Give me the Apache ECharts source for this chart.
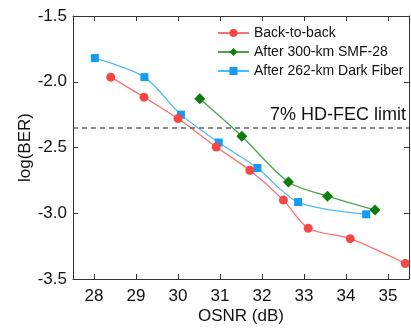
<!DOCTYPE html>
<html>
<head>
<meta charset="utf-8">
<script src="https://cdn.jsdelivr.net/npm/echarts@6/dist/echarts.min.js"></script>
<style>
  html, body { margin: 0; padding: 0; background: #fff; }
  #main { width: 411px; height: 330px; }
</style>
</head>
<body>
<div id="main"></div>
<script>
// 数据
var b2bX = [28.40, 29.19, 30.00, 30.91, 31.71, 32.51, 33.10, 34.10, 35.41];
var b2bY = [-1.965, -2.117, -2.28, -2.496, -2.673, -2.90, -3.114, -3.193, -3.382];
var smfX = [30.52, 31.52, 32.63, 33.56, 34.69];
var smfY = [-2.13, -2.415, -2.762, -2.870, -2.976];
var darkX = [28.02, 29.20, 30.07, 30.97, 31.89, 32.86, 34.48];
var darkY = [-1.82, -1.965, -2.25, -2.462, -2.656, -2.915, -3.008];
var xTicks = [28, 29, 30, 31, 32, 33, 34, 35];
var fecLimit = -2.35;

function pairs(xs, ys) {
    return xs.map(function (x, i) { return [x, ys[i]]; });
}

var myChart = echarts.init(document.getElementById('main'));
var font = 'Liberation Sans, Arial, sans-serif';

myChart.setOption({
    animation: false,
    textStyle: { fontFamily: font },
    grid: { left: 73, right: 2, top: 16, bottom: 43 },
    legend: { //图例
        left: 217,
        top: 26,
        padding: 0,
        orient: 'vertical',
        itemWidth: 31,
        itemHeight: 10,
        itemGap: 5,
        textStyle: { fontSize: 14, color: '#111', fontFamily: font, lineHeight: 12 },
        data: ['Back-to-back', 'After 300-km SMF-28', 'After 262-km Dark Fiber']
    },
    xAxis: [
        {
            type: 'value',
            min: 27.5,
            max: 35.5,
            name: 'OSNR (dB)',
            nameLocation: 'middle',
            nameGap: 29,
            nameMoveOverlap: false,
            nameTextStyle: { fontSize: 17, color: '#111' },
            axisLine: { lineStyle: { color: '#333', width: 1 } },
            axisTick: { inside: true, length: 5, customValues: xTicks, lineStyle: { color: '#333' } },
            axisLabel: { customValues: xTicks, fontSize: 17, color: '#111', margin: 9 },
            splitLine: { show: false }
        },
        {
            type: 'value',
            position: 'top',
            min: 27.5,
            max: 35.5,
            axisLine: { show: true, lineStyle: { color: '#333', width: 1 } },
            axisTick: { inside: true, length: 5, customValues: xTicks, lineStyle: { color: '#333' } },
            axisLabel: { show: false },
            splitLine: { show: false }
        }
    ],
    yAxis: [
        {
            type: 'value',
            min: -3.5,
            max: -1.5,
            interval: 0.5,
            name: 'log(BER)',
            nameLocation: 'middle',
            nameGap: 39,
            nameMoveOverlap: false,
            nameTextStyle: { fontSize: 17, color: '#111' },
            axisLine: { show: true, lineStyle: { color: '#333', width: 1 } },
            axisTick: { show: true, inside: true, length: 5, lineStyle: { color: '#333' } },
            axisLabel: {
                fontSize: 17, color: '#111', margin: 6,
                formatter: function (v) { return v.toFixed(1); }
            },
            splitLine: { show: false }
        },
        {
            type: 'value',
            position: 'right',
            min: -3.5,
            max: -1.5,
            interval: 0.5,
            axisLine: { show: true, lineStyle: { color: '#333', width: 1 } },
            axisTick: { show: true, inside: true, length: 5, lineStyle: { color: '#333' } },
            axisLabel: { show: false },
            splitLine: { show: false }
        }
    ],
    series: [
        {
            name: 'Back-to-back',
            type: 'line',
            smooth: 0.3,
            symbol: 'circle',
            symbolSize: 9,
            data: pairs(b2bX, b2bY),
            itemStyle: { color: '#f64646' },
            lineStyle: { color: '#ff7070', width: 1.3 },
            markLine: { //HD-FEC 限
                silent: true,
                symbol: 'none',
                data: [{ yAxis: fecLimit }],
                lineStyle: { color: '#666', type: [5, 4], width: 1.5 },
                label: {
                    position: 'insideEndTop',
                    formatter: '7% HD-FEC limit',
                    fontSize: 18,
                    color: '#111',
                    distance: [3, 4]
                }
            },
            z: 3
        },
        {
            name: 'After 300-km SMF-28',
            type: 'line',
            smooth: 0.3,
            symbol: 'diamond',
            symbolSize: 11,
            data: pairs(smfX, smfY),
            itemStyle: { color: '#0a7d0a' },
            lineStyle: { color: '#4ea04e', width: 1.3 },
            z: 4
        },
        {
            name: 'After 262-km Dark Fiber',
            type: 'line',
            smooth: 0.3,
            symbol: 'rect',
            symbolSize: 8,
            data: pairs(darkX, darkY),
            itemStyle: { color: '#129cf5' },
            lineStyle: { color: '#4cbaff', width: 1.3 },
            z: 2
        }
    ]
});
</script>
</body>
</html>
